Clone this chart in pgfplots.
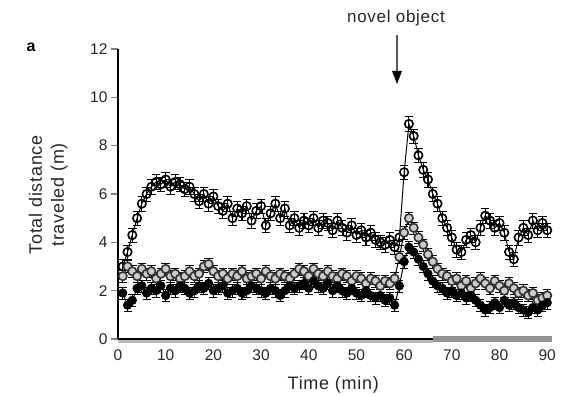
\documentclass[border=0pt]{standalone}
\usepackage{fontspec}
\setmainfont{Liberation Sans}
\usepackage{pgfplots}
\pgfplotsset{compat=1.18}
\usepackage{pgfplotstable}
\pgfplotstableread[row sep=\\]{
t y\\
1 3.0\\ 2 3.6\\ 3 4.3\\ 4 5.0\\ 5 5.6\\ 6 6.0\\ 7 6.3\\ 8 6.5\\ 9 6.4\\ 10 6.6\\
11 6.3\\ 12 6.5\\ 13 6.4\\ 14 6.2\\ 15 6.3\\ 16 6.0\\ 17 5.7\\ 18 6.0\\ 19 5.6\\ 20 5.9\\
21 5.5\\ 22 5.3\\ 23 5.6\\ 24 5.0\\ 25 5.4\\ 26 5.2\\ 27 5.5\\ 28 4.9\\ 29 5.3\\ 30 5.5\\
31 4.7\\ 32 5.2\\ 33 5.6\\ 34 5.0\\ 35 5.4\\ 36 4.7\\ 37 5.0\\ 38 4.6\\ 39 4.9\\ 40 4.7\\
41 5.0\\ 42 4.6\\ 43 4.9\\ 44 4.8\\ 45 4.5\\ 46 4.9\\ 47 4.6\\ 48 4.4\\ 49 4.7\\ 50 4.3\\
51 4.5\\ 52 4.2\\ 53 4.4\\ 54 4.1\\ 55 4.0\\ 56 3.9\\ 57 4.1\\ 58 3.8\\ 59 4.2\\ 60 6.9\\
61 8.9\\ 62 8.4\\ 63 7.6\\ 64 7.0\\ 65 6.6\\ 66 6.0\\ 67 5.6\\ 68 5.0\\ 69 4.6\\ 70 4.2\\
71 3.7\\ 72 3.6\\ 73 4.1\\ 74 4.3\\ 75 4.0\\ 76 4.6\\ 77 5.1\\ 78 4.9\\ 79 4.6\\ 80 4.8\\
81 4.4\\ 82 3.6\\ 83 3.3\\ 84 4.2\\ 85 4.6\\ 86 4.3\\ 87 4.9\\ 88 4.5\\ 89 4.8\\ 90 4.5\\
}\dataA
\pgfplotstableread[row sep=\\]{
t y\\
1 2.6\\ 2 3.0\\ 3 2.8\\ 4 2.6\\ 5 2.9\\ 6 2.7\\ 7 2.8\\ 8 2.5\\ 9 2.7\\ 10 2.9\\
11 2.6\\ 12 2.7\\ 13 2.5\\ 14 2.6\\ 15 2.8\\ 16 2.6\\ 17 2.7\\ 18 3.0\\ 19 3.1\\ 20 2.8\\
21 2.6\\ 22 2.7\\ 23 2.5\\ 24 2.7\\ 25 2.6\\ 26 2.8\\ 27 2.5\\ 28 2.6\\ 29 2.7\\ 30 2.5\\
31 2.8\\ 32 2.6\\ 33 2.5\\ 34 2.7\\ 35 2.6\\ 36 2.5\\ 37 2.7\\ 38 2.9\\ 39 2.8\\ 40 2.6\\
41 2.9\\ 42 2.7\\ 43 2.6\\ 44 2.8\\ 45 2.6\\ 46 2.5\\ 47 2.7\\ 48 2.6\\ 49 2.4\\ 50 2.6\\
51 2.5\\ 52 2.3\\ 53 2.5\\ 54 2.4\\ 55 2.2\\ 56 2.4\\ 57 2.3\\ 58 2.5\\ 59 3.4\\ 60 4.4\\
61 5.0\\ 62 4.6\\ 63 4.2\\ 64 3.9\\ 65 3.5\\ 66 3.2\\ 67 2.9\\ 68 2.7\\ 69 2.6\\ 70 2.4\\
71 2.5\\ 72 2.2\\ 73 2.4\\ 74 2.1\\ 75 2.3\\ 76 2.5\\ 77 2.3\\ 78 2.1\\ 79 2.4\\ 80 2.2\\
81 2.0\\ 82 2.3\\ 83 2.1\\ 84 1.9\\ 85 2.0\\ 86 1.8\\ 87 1.9\\ 88 1.6\\ 89 1.7\\ 90 1.8\\
}\dataB
\pgfplotstableread[row sep=\\]{
t y\\
1 1.9\\ 2 1.4\\ 3 1.6\\ 4 2.1\\ 5 2.2\\ 6 1.9\\ 7 2.1\\ 8 2.0\\ 9 2.2\\ 10 1.8\\
11 2.1\\ 12 2.0\\ 13 2.2\\ 14 2.1\\ 15 1.9\\ 16 2.0\\ 17 2.2\\ 18 2.1\\ 19 2.3\\ 20 2.0\\
21 2.1\\ 22 2.2\\ 23 1.9\\ 24 2.0\\ 25 2.1\\ 26 1.9\\ 27 2.0\\ 28 2.2\\ 29 2.1\\ 30 2.0\\
31 1.9\\ 32 2.1\\ 33 2.0\\ 34 1.8\\ 35 2.0\\ 36 2.2\\ 37 2.1\\ 38 2.2\\ 39 2.3\\ 40 2.1\\
41 2.4\\ 42 2.2\\ 43 2.1\\ 44 2.3\\ 45 2.0\\ 46 2.2\\ 47 2.0\\ 48 1.9\\ 49 2.1\\ 50 1.9\\
51 1.8\\ 52 2.0\\ 53 1.8\\ 54 1.7\\ 55 1.8\\ 56 1.6\\ 57 1.7\\ 58 1.4\\ 59 2.2\\ 60 3.2\\
61 3.8\\ 62 3.6\\ 63 3.3\\ 64 3.0\\ 65 2.7\\ 66 2.4\\ 67 2.2\\ 68 2.1\\ 69 1.9\\ 70 2.0\\
71 1.8\\ 72 1.9\\ 73 1.7\\ 74 1.8\\ 75 1.6\\ 76 1.4\\ 77 1.2\\ 78 1.3\\ 79 1.5\\ 80 1.3\\
81 1.6\\ 82 1.4\\ 83 1.5\\ 84 1.3\\ 85 1.2\\ 86 1.1\\ 87 1.3\\ 88 1.2\\ 89 1.4\\ 90 1.5\\
}\dataC
\begin{document}
\begin{tikzpicture}
\path[use as bounding box] (0,0) rectangle (563pt,396pt);
\begin{axis}[
  scale only axis, width=434pt, height=290pt,
  at={(118pt,57pt)}, anchor=south west,
  xmin=0, xmax=91, ymin=0, ymax=12,
  axis x line*=bottom, axis y line*=left,
  axis line style={line width=2.5pt, black},
  xtick={0,10,...,90}, ytick={0,2,...,12},
  tick align=outside,
  x tick style={draw=none},
  y tick style={draw=gray, line width=1.5pt},
  major tick length=7pt,
  ticklabel style={font=\fontsize{15.5}{17}\selectfont, text=black!85},
  /pgf/number format/assume math mode=true,
  clip=false,
]
\addplot[black, line width=1pt, mark=o, mark size=4.2pt,
  mark options={fill=white, line width=1.6pt},
  error bars/.cd, y dir=both, y fixed=0.3, error bar style={line width=1.1pt}]
  table[x=t, y=y] {\dataA};
\addplot[black, line width=1pt, mark=*, mark size=4.2pt,
  mark options={fill=gray!40, draw=black!80, line width=1.6pt},
  error bars/.cd, y dir=both, y fixed=0.25, error bar style={line width=1.1pt}]
  table[x=t, y=y] {\dataB};
\addplot[black, line width=1pt, mark=*, mark size=4pt,
  mark options={fill=black, line width=1.2pt},
  error bars/.cd, y dir=both, y fixed=0.25, error bar style={line width=1.1pt}]
  table[x=t, y=y] {\dataC};
\draw[gray!55, line width=2.5pt] (axis cs:0,0) ++(0,-2.5pt) -- ([yshift=-2.5pt]axis cs:66,0);
\draw[gray!85, line width=6pt] (axis cs:66,0) -- (axis cs:91,0);
\node[font=\fontsize{18}{22}\selectfont\addfontfeature{LetterSpace=4}, text=black!85, rotate=90, align=center]
  at (axis description cs:-0.161,0.497) {Total distance\\traveled (m)};
\node[font=\fontsize{18}{22}\selectfont\addfontfeature{LetterSpace=4}, text=black!85]
  at (axis description cs:0.496,-0.157) {Time (min)};
\end{axis}
\node[font=\fontsize{16}{18}\selectfont\bfseries] at (31pt,349pt) {a};
\node[font=\fontsize{17}{18}\selectfont\addfontfeature{LetterSpace=4}, text=black!85] at (396pt,378pt) {novel object};
\draw[gray!70!black, line width=2.5pt] (397pt,361pt) -- (397pt,322pt);
\fill[black] (392pt,325pt) -- (402pt,325pt) -- (397pt,312pt) -- cycle;
\end{tikzpicture}
\end{document}
